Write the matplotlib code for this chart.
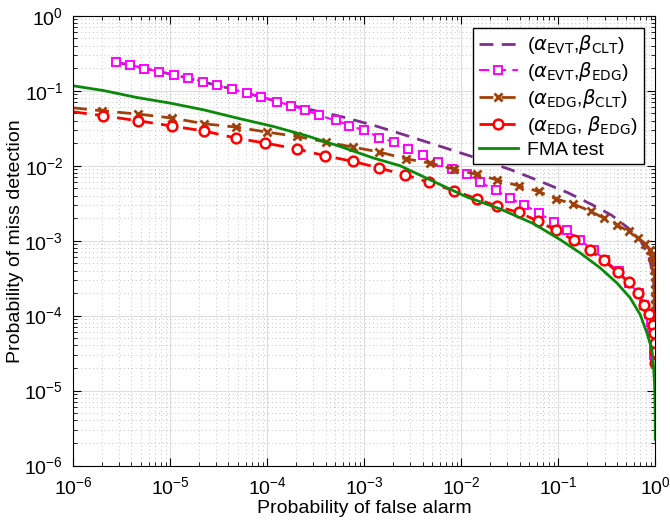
import numpy as np
import matplotlib.pyplot as plt

plt.rcParams['font.family'] = ['Liberation Sans', 'DejaVu Sans']
plt.rcParams['mathtext.fontset'] = 'dejavusans'

# данные (log10 значения)
# (alpha_EVT, beta_CLT)
evt_clt_lx = [-5.560, -4.959, -4.358, -3.756, -3.247, -2.904, -2.629, -2.289, -1.907,
              -1.495, -1.2, -0.9, -0.65, -0.45, -0.28, -0.15, -0.07, -0.03, -0.012,
              -0.005, -0.002]
evt_clt_ly = [-0.617, -0.787, -0.977, -1.193, -1.34, -1.46, -1.57, -1.71, -1.87,
              -2.05, -2.20, -2.36, -2.52, -2.66, -2.83, -3.0, -3.2, -3.4, -3.6,
              -3.8, -4.0]

# (alpha_EVT, beta_EDG)
evt_edg_lx = [-5.560, -5.412, -5.268, -5.110, -4.959, -4.817, -4.662, -4.515, -4.358,
              -4.211, -4.062, -3.900, -3.756, -3.608, -3.461, -3.292, -3.151, -2.997,
              -2.842, -2.691, -2.546, -2.395, -2.234, -2.096, -1.941, -1.804, -1.642,
              -1.502, -1.351, -1.203, -1.048, -0.912, -0.773, -0.636, -0.515, -0.378,
              -0.275, -0.172, -0.113, -0.062, -0.041, -0.031, -0.021, -0.015, -0.010,
              -0.005]
evt_edg_ly = [-0.617, -0.649, -0.703, -0.743, -0.787, -0.827, -0.876, -0.924, -0.977,
              -1.033, -1.076, -1.143, -1.196, -1.253, -1.329, -1.396, -1.463, -1.529,
              -1.623, -1.684, -1.776, -1.863, -1.947, -2.044, -2.116, -2.223, -2.329,
              -2.436, -2.520, -2.631, -2.747, -2.863, -2.996, -3.129, -3.263, -3.409,
              -3.564, -3.697, -3.853, -3.973, -4.08, -4.19, -4.29, -4.40, -4.52,
              -4.61]

# (alpha_EDG, beta_CLT)
edg_clt_lx = [-6.0, -5.698, -5.327, -4.976, -4.646, -4.320, -4.003, -3.688, -3.392,
              -3.116, -2.842, -2.572, -2.320, -2.079, -1.838, -1.632, -1.409, -1.203,
              -1.021, -0.845, -0.663, -0.533, -0.395, -0.275, -0.178, -0.103, -0.059,
              -0.034, -0.017, -0.009, -0.006, -0.004, -0.003, -0.002, -0.0015, -0.001,
              -0.0007, -0.0005]
edg_clt_ly = [-1.227, -1.267, -1.311, -1.364, -1.440, -1.484, -1.551, -1.609, -1.684,
              -1.751, -1.817, -1.907, -1.964, -2.044, -2.116, -2.187, -2.267, -2.343,
              -2.444, -2.509, -2.609, -2.697, -2.787, -2.876, -2.964, -3.040, -3.129,
              -3.217, -3.307, -3.396, -3.476, -3.564, -3.663, -3.764, -3.853, -3.964,
              -4.08, -4.19]

# (alpha_EDG, beta_EDG)
edg_edg_lx = [-6.0, -5.688, -5.327, -4.976, -4.646, -4.320, -4.021, -3.688, -3.402,
              -3.110, -2.842, -2.582, -2.327, -2.079, -1.838, -1.626, -1.409, -1.209,
              -1.021, -0.842, -0.670, -0.533, -0.389, -0.275, -0.183, -0.113, -0.062,
              -0.028, -0.012, -0.006, -0.003, -0.0015]
edg_edg_ly = [-1.28, -1.333, -1.400, -1.471, -1.537, -1.631, -1.697, -1.777, -1.867,
              -1.943, -2.031, -2.120, -2.223, -2.333, -2.440, -2.543, -2.623, -2.737,
              -2.863, -2.991, -3.129, -3.263, -3.417, -3.556, -3.697, -3.853, -3.980,
              -4.12, -4.23, -4.36, -4.49, -4.63]

# FMA test
fma_lx = [-6.0, -5.688, -5.343, -5.0, -4.657, -4.278, -3.935, -3.591, -3.247, -2.904,
          -2.629, -2.286, -1.941, -1.598, -1.254, -0.979, -0.773, -0.567, -0.395,
          -0.258, -0.155, -0.086, -0.034, -0.018, -0.008, -0.003, -0.001, -0.0003]
fma_ly = [-0.933, -0.996, -1.089, -1.164, -1.253, -1.373, -1.476, -1.600, -1.743,
          -1.897, -2.0, -2.209, -2.417, -2.577, -2.773, -2.987, -3.164, -3.364,
          -3.564, -3.764, -3.987, -4.231, -4.453, -4.676, -4.897, -5.12, -5.39, -5.65]

labels = [r'($\alpha_{\mathrm{EVT}}$,$\beta_{\mathrm{CLT}}$)',
          r'($\alpha_{\mathrm{EVT}}$,$\beta_{\mathrm{EDG}}$)',
          r'($\alpha_{\mathrm{EDG}}$,$\beta_{\mathrm{CLT}}$)',
          r'($\alpha_{\mathrm{EDG}}$, $\beta_{\mathrm{EDG}}$)',
          'FMA test']


def p(v):
    return 10.0 ** np.array(v)


fig = plt.figure(figsize=(6.7, 5.29), dpi=100)
ax = fig.add_axes([0.109, 0.12, 0.869, 0.85])

dash = (5, 3)
ax.plot(p(evt_clt_lx), p(evt_clt_ly), color='#7E2F8E', lw=2, dashes=dash, label=labels[0])
ax.plot(p(evt_edg_lx), p(evt_edg_ly), color='#FF00FF', lw=1.5, dashes=dash,
        marker='s', ms=5.5, mfc='white', mew=1.4, label=labels[1])
ax.plot(p(edg_clt_lx), p(edg_clt_ly), color='#A0400A', lw=2, dashes=dash,
        marker='x', ms=6, mew=2, markevery=list(range(1, len(edg_clt_lx))), label=labels[2])
ax.plot(p(edg_edg_lx), p(edg_edg_ly), color='#FF0000', lw=2, dashes=dash,
        marker='o', ms=7, mfc='white', mew=1.8, markevery=list(range(1, len(edg_edg_lx))),
        label=labels[3])
ax.plot(p(fma_lx), p(fma_ly), color='#0A8A0A', lw=2, label=labels[4])

ax.set_xscale('log')
ax.set_yscale('log')
ax.set_xlim(1e-6, 1)
ax.set_ylim(1e-6, 1)
ax.set_xticks([1e-6, 1e-5, 1e-4, 1e-3, 1e-2, 1e-1, 1])
ax.set_yticks([1e-6, 1e-5, 1e-4, 1e-3, 1e-2, 1e-1, 1])
ax.grid(True, which='major', color='#DDDDDD', lw=0.8)
ax.grid(True, which='minor', color='#C4C4C4', lw=0.7, ls=(0, (1, 3)))
ax.tick_params(which='both', direction='in', top=True, right=True, labelsize=14)
ax.tick_params(which='major', length=6)
ax.tick_params(which='minor', length=3)
ax.tick_params(axis='x', which='major', pad=8)
ax.tick_params(axis='y', which='major', pad=7)
ax.set_axisbelow(True)

ax.set_xlabel('Probability of false alarm', fontsize=14, labelpad=1)
ax.set_ylabel('Probability of miss detection', fontsize=14)
ax.yaxis.set_label_coords(-0.085, 0.5)

leg = ax.legend(loc='upper right', fontsize=14, fancybox=False, framealpha=1,
                edgecolor='black', handlelength=2.0, borderpad=0.3,
                labelspacing=0.2, handletextpad=0.5, borderaxespad=0.6)
leg.get_frame().set_linewidth(1)

fig.savefig('out.png', dpi=100)
